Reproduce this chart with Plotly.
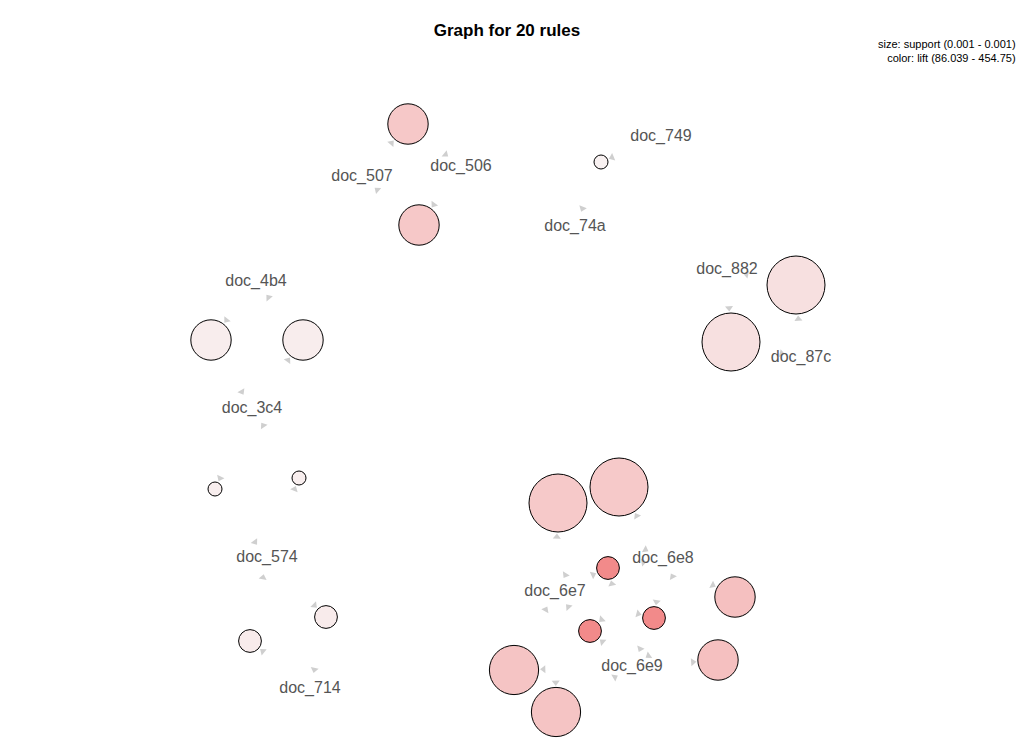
import math
import plotly.graph_objects as go

# rule nodes (layout position in px, support, lift)
rule_x = [408, 419, 601, 796, 731, 211, 303, 215, 299, 326, 250,
          558, 619, 608, 654, 590, 735, 718, 514, 556]
rule_y = [124, 225, 162, 285, 342, 340, 340, 489, 478, 617, 641,
          503, 487, 568, 618, 631, 597, 660, 670, 712]
support = [0.001006, 0.001006, 0.001000, 0.001010, 0.001010, 0.001006, 0.001006,
           0.001000, 0.001000, 0.001002, 0.001002, 0.001010, 0.001010, 0.001002,
           0.001002, 0.001002, 0.001006, 0.001006, 0.001008, 0.001008]
lift = [235, 235, 90, 150, 150, 105, 105, 100, 100, 110, 110,
        232, 232, 454.75, 454.75, 454.75, 262, 262, 250, 250]

# item nodes
items = ["doc_507", "doc_506", "doc_749", "doc_74a", "doc_882", "doc_87c", "doc_4b4",
         "doc_3c4", "doc_574", "doc_714", "doc_6e8", "doc_6e7", "doc_6e9"]
item_x = [362, 461, 661, 575, 727, 801, 256, 252, 267, 310, 663, 555, 632]
item_y = [177, 167, 137, 227, 270, 358, 282, 409, 558, 689, 559, 592, 667]

# rules: (lhs items, rhs item)
rules = [(["doc_507"], "doc_506"), (["doc_506"], "doc_507"),
         (["doc_749"], "doc_74a"),
         (["doc_87c"], "doc_882"), (["doc_882"], "doc_87c"),
         (["doc_4b4"], "doc_3c4"), (["doc_3c4"], "doc_4b4"),
         (["doc_3c4"], "doc_574"), (["doc_574"], "doc_3c4"),
         (["doc_574"], "doc_714"), (["doc_714"], "doc_574"),
         (["doc_6e7"], "doc_6e8"), (["doc_6e8"], "doc_6e7"),
         (["doc_6e7", "doc_6e9"], "doc_6e8"), (["doc_6e8", "doc_6e7"], "doc_6e9"),
         (["doc_6e8", "doc_6e9"], "doc_6e7"),
         (["doc_6e8"], "doc_6e9"), (["doc_6e9"], "doc_6e8"),
         (["doc_6e9"], "doc_6e7"), (["doc_6e7"], "doc_6e9")]

smin, smax = min(support), max(support)
sizes = [14 + (s - smin) / (smax - smin) * 44 for s in support]
pos = {n: (x, y) for n, x, y in zip(items, item_x, item_y)}

ax, ay, ang = [], [], []
def head(x0, y0, x1, y1, back):
    dx, dy = x1 - x0, y1 - y0
    d = math.hypot(dx, dy)
    ax.append(x1 - dx / d * back)
    ay.append(y1 - dy / d * back)
    ang.append(math.degrees(math.atan2(dx, -dy)))

for i, (lhs, rhs) in enumerate(rules):
    rx, ry = rule_x[i], rule_y[i]
    for it in lhs:
        head(*pos[it], rx, ry, sizes[i] / 2 + 5)
    head(rx, ry, *pos[rhs], 20)

fig = go.Figure()
fig.add_trace(go.Scatter(x=ax, y=ay, mode="markers", hoverinfo="skip",
                         marker=dict(symbol="triangle-up", size=7, angle=ang,
                                     color="#cfcfcf", line=dict(width=0))))
fig.add_trace(go.Scatter(x=rule_x, y=rule_y, mode="markers",
                         marker=dict(size=sizes, color=lift, cmin=86.039, cmax=454.75,
                                     colorscale=[[0, "#f8f2f2"], [1, "#f28a8a"]],
                                     line=dict(color="black", width=1), opacity=1)))
fig.add_trace(go.Scatter(x=item_x, y=item_y, mode="text", text=items,
                         textfont=dict(family="Liberation Sans, Arial", size=16, color="#555555")))

fig.update_layout(
    width=1010, height=737, showlegend=False, plot_bgcolor="white", paper_bgcolor="white",
    margin=dict(l=0, r=0, t=0, b=0),
    xaxis=dict(range=[8, 1018], visible=False),
    yaxis=dict(range=[745, 8], visible=False),
    title=dict(text="<b>Graph for 20 rules</b>", x=0.494, y=0.97, yanchor="middle",
               xanchor="center",
               font=dict(family="Liberation Sans, Arial", size=17, color="black")),
    annotations=[dict(text="size: support (0.001 - 0.001)<br>color: lift (86.039 - 454.75)",
                      xref="paper", yref="paper", x=1.0, y=0.962, xanchor="right",
                      yanchor="top", align="right", showarrow=False,
                      font=dict(family="Liberation Sans, Arial", size=11, color="black"))],
)
fig.write_html("out.html")
